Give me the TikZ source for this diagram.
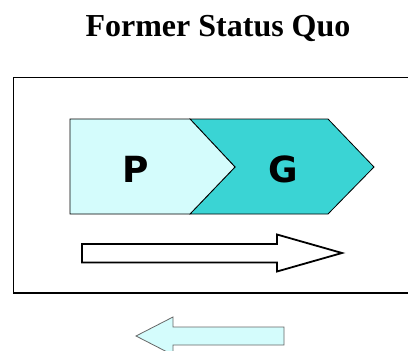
\documentclass[tikz,border=0pt]{standalone}
\usepackage{fontspec}
\setmainfont{Liberation Serif}
\newfontfamily\pgfont{DejaVu Sans}
\definecolor{lightcy}{RGB}{212,252,252}
\definecolor{darkcy}{RGB}{58,212,212}
\begin{document}
\begin{tikzpicture}[x=1pt,y=-1pt,
  chev/.style={draw=black,line width=0.8pt,line join=miter},
  lbl/.style={font=\pgfont\bfseries\fontsize{36}{36}\selectfont},
  ttl/.style={font=\bfseries\fontsize{32}{32}\selectfont}]
\useasboundingbox (0,0) rectangle (408,351);
\clip (0,0) rectangle (408,351);
\fill[white] (0,0) rectangle (408,351);
\node[ttl] (title) at (218,28) {Former Status Quo};
\draw[line width=1.3pt] (420,77.5) -- (13.5,77.5) -- (13.5,293) -- (420,293);
\draw[chev,fill=darkcy] (190,119) -- (328,119) -- (374,167) -- (328,214) -- (190,214) -- (235,167) -- cycle;
\draw[chev,fill=lightcy] (70,119) -- (190,119) -- (235,167) -- (190,214) -- (70,214) -- cycle;
\node[lbl] (p) at (136,169) {P};
\node[lbl] (g) at (283,169) {G};
\draw[line width=1.8pt,fill=white,line join=miter] (82,244) -- (277,244) -- (277,234.5) -- (342,253) -- (277,271.5) -- (277,262.5) -- (82,262.5) -- cycle;
\draw[draw=black!60,line width=0.8pt,fill=lightcy] (284,327) -- (173,327) -- (173,317) -- (136,336) -- (173,355) -- (173,345) -- (284,345) -- cycle;
\end{tikzpicture}
\end{document}
